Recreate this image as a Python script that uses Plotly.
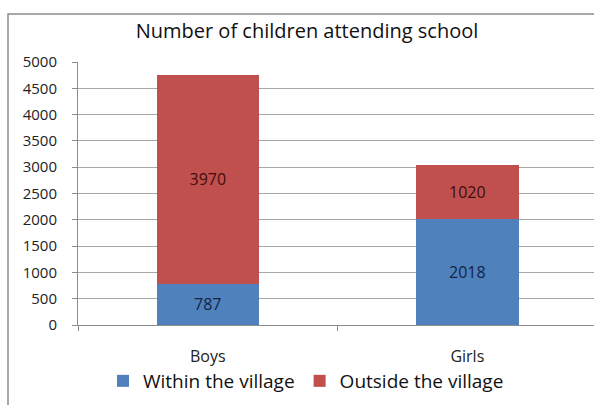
import plotly.graph_objects as go

categories = ["Boys", "Girls"]
within_village = [787, 2018]
outside_village = [3970, 1020]
y_ticks = [0, 500, 1000, 1500, 2000, 2500, 3000, 3500, 4000, 4500, 5000]

FONT = "Open Sans"
W, H = 594, 405
L, T, B = 78, 62, 80

fig = go.Figure()
fig.add_trace(go.Bar(
    x=categories, y=within_village, name="Within the village",
    marker=dict(color="#4f81bd", line=dict(width=0)),
    text=[str(v) for v in within_village], textposition="inside",
    insidetextanchor="middle", textangle=0,
    textfont=dict(family=FONT, size=16, color="#15233f"),
))
fig.add_trace(go.Bar(
    x=categories, y=outside_village, name="Outside the village",
    marker=dict(color="#c0504d", line=dict(width=0)),
    text=[str(v) for v in outside_village], textposition="inside",
    insidetextanchor="middle", textangle=0,
    textfont=dict(family=FONT, size=16, color="#3f0e0e"),
))

pw = W - L
ph = H - T - B
def px_x(p):
    return (p - L) / pw
def px_y(p):
    return (H - B - p) / ph

fig.add_shape(type="rect", xref="paper", yref="paper",
              x0=px_x(8), x1=px_x(620), y0=px_y(430), y1=px_y(14),
              line=dict(color="#8c8c8c", width=1.5), fillcolor="rgba(0,0,0,0)",
              layer="below")

fig.update_layout(
    width=W, height=H,
    margin=dict(l=L, r=0, t=T, b=B, pad=0),
    barmode="stack", bargap=0.605,
    paper_bgcolor="white", plot_bgcolor="white",
    font=dict(family=FONT, size=15, color="#222222"),
    title=dict(text="Number of children attending school",
               x=307 / W, xanchor="center", y=1 - 31 / H, yanchor="middle",
               font=dict(family=FONT, size=20, color="#111111")),
    legend=dict(orientation="h", x=px_x(306), xanchor="center",
                y=px_y(381), yanchor="middle", traceorder="normal",
                font=dict(family=FONT, size=19, color="#111111"),
                itemwidth=30, tracegroupgap=0, bgcolor="rgba(0,0,0,0)"),
    showlegend=True,
    xaxis=dict(range=[-0.5, 1.488], showgrid=False, showline=True,
               linecolor="#8c8c8c", linewidth=1, ticks="outside",
               tickson="boundaries", ticklen=5, tickcolor="#8c8c8c",
               ticklabelstandoff=17,
               tickfont=dict(family=FONT, size=16, color="#222222")),
    yaxis=dict(range=[0, 5000], tickvals=y_ticks,
               showgrid=True, gridcolor="#a6a6a6", gridwidth=1,
               showline=True, linecolor="#8c8c8c", linewidth=1,
               ticks="outside", ticklen=5, tickcolor="#8c8c8c",
               ticklabelstandoff=12, zeroline=False,
               tickfont=dict(family=FONT, size=15, color="#222222")),
)

fig.write_html("out.html")
